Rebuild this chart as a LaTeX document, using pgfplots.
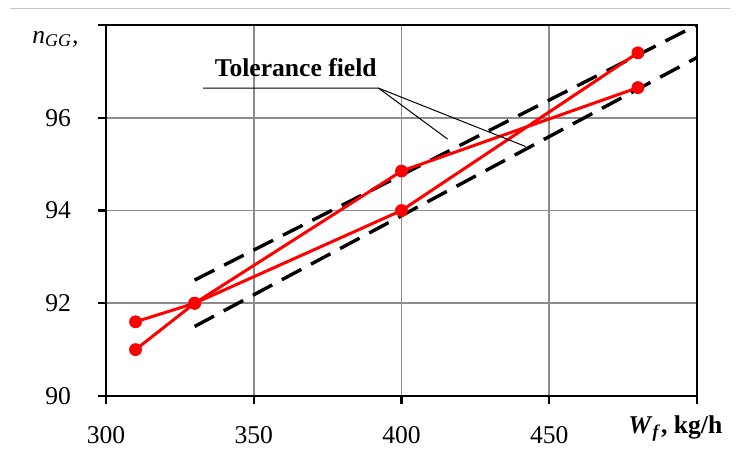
\documentclass[border=0pt]{standalone}
\usepackage{fontspec}
\setmainfont{Liberation Serif}
\usepackage{pgfplots}
\pgfplotsset{compat=1.18}

\begin{document}
\begin{tikzpicture}
% page area (1 px of the reference = 0.5pt), origin at the axis corner
\useasboundingbox (-53pt,-28pt) rectangle (316.5pt,198pt);
\draw[black!22, line width=0.5pt] (-48pt,194pt) -- (312pt,194pt);

\begin{axis}[
  at={(0,0)}, anchor=south west,
  scale only axis, width=295.5pt, height=185.5pt,
  xmin=300, xmax=500, ymin=90, ymax=98,
  xtick={300,350,400,450,500}, ytick={90,92,94,96,98},
  xticklabels={300,350,400,450,{}},
  yticklabels={90,92,94,96,{}},
  xtick pos=left, ytick pos=left,
  tick align=outside, major tick length=4pt,
  tick style={black, line width=1.2pt},
  axis line style={black, line width=1.4pt},
  grid=major, grid style={black!45, line width=0.9pt},
  ticklabel style={font=\fontsize{12.8}{15}\selectfont},
  xticklabel style={anchor=base, yshift=-19.5pt},
  yticklabel style={anchor=east, xshift=-10pt},
]
% tolerance field
\addplot[black, line width=1.7pt, dash pattern=on 11pt off 5.5pt] coordinates {(330,92.5) (500,98.0)};
\addplot[black, line width=1.7pt, dash pattern=on 11pt off 5.5pt] coordinates {(330,91.5) (500,97.3)};
% measured
\addplot[red, line width=1.5pt, mark=*, mark size=3pt, mark options={solid, fill=red, draw=red, line width=0.4pt}]
  coordinates {(310,91.0) (330,92.0) (400,94.85) (480,96.65)};
\addplot[red, line width=1.5pt, mark=*, mark size=3pt, mark options={solid, fill=red, draw=red, line width=0.4pt}]
  coordinates {(310,91.6) (330,92.0) (400,94.0) (480,97.4)};
% callout
\draw[black, line width=0.5pt] (axis cs:332.9,96.64) -- (axis cs:392.2,96.64) -- (axis cs:415.6,95.54);
\draw[black, line width=0.5pt] (axis cs:392.2,96.64) -- (axis cs:442,95.38);
\node[anchor=base, inner sep=0pt, font=\fontsize{12.8}{15}\selectfont\bfseries] at (axis cs:364.2,96.90) {Tolerance field};
\end{axis}

\node[anchor=base west, inner sep=0pt, font=\fontsize{12.8}{15}\selectfont] at (-37pt,176.5pt)
  {\textit{n}\textsubscript{\textit{GG}}\textit{,}};
\node[anchor=base west, inner sep=0pt, font=\fontsize{12.8}{15}\selectfont\bfseries] at (261pt,-18.5pt)
  {\textit{W}\textsubscript{\textit{f}}, kg/h};
\end{tikzpicture}
\end{document}
